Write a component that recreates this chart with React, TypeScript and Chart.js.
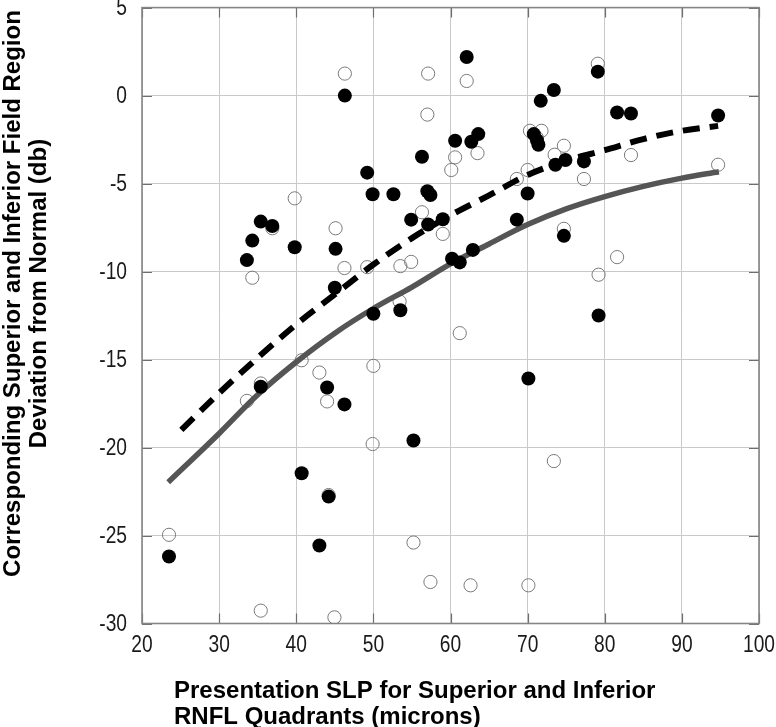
import React, { useEffect, useRef } from "react";
import { Chart, registerables } from "chart.js";

Chart.register(...registerables);

// ---- Data ----
const xTickValues = [20, 30, 40, 50, 60, 70, 80, 90, 100];
const yTickValues = [5, 0, -5, -10, -15, -20, -25, -30];

// Filled (black) circles
const filledX = [46.3, 60.6, 56.3, 49.2, 49.9, 52.6, 57.0, 57.4, 35.4, 36.9, 54.9, 57.1, 59.0, 34.3, 39.8, 45.1, 33.6, 60.2, 61.2, 45.0, 50.0, 53.5, 62.1, 79.1, 73.4, 71.7, 81.6, 83.4, 94.7, 63.6, 62.7, 70.8, 71.2, 71.4, 74.9, 73.6, 77.3, 70.0, 68.6, 74.7, 62.9, 79.2, 35.4, 44.0, 46.25, 55.2, 40.7, 44.2, 43.0, 23.5, 70.1];
const filledY = [0.0, -2.57, -3.48, -4.38, -5.61, -5.61, -5.44, -5.65, -7.16, -7.41, -7.05, -7.33, -7.03, -8.24, -8.62, -8.71, -9.35, -9.27, -9.48, -10.92, -12.4, -12.2, 2.19, 1.36, 0.32, -0.3, -0.96, -1.02, -1.13, -2.19, -2.62, -2.19, -2.53, -2.79, -3.66, -3.93, -3.74, -5.56, -7.05, -7.97, -8.77, -12.5, -16.55, -16.59, -17.55, -19.6, -21.46, -22.79, -25.57, -26.19, -16.08];

// Open circles
const openX = [46.3, 57.1, 57.0, 60.6, 60.1, 39.8, 45.1, 36.9, 56.3, 59.0, 46.25, 49.2, 53.5, 54.9, 34.3, 53.4, 61.2, 62.1, 79.1, 70.3, 71.8, 71.2, 63.5, 74.7, 73.5, 83.4, 94.7, 70.0, 68.6, 77.3, 74.7, 81.6, 79.2, 40.7, 43.0, 50.0, 35.4, 33.6, 44.0, 49.9, 23.5, 55.2, 57.4, 35.4, 44.95, 73.4, 62.6, 70.1, 44.2];
const openY = [1.25, 1.25, -1.08, -3.51, -4.23, -5.84, -7.54, -7.54, -6.63, -7.86, -9.8, -9.75, -9.69, -9.45, -10.35, -11.7, -13.5, 0.83, 1.81, -2.0, -2.0, -2.4, -3.27, -2.85, -3.36, -3.38, -3.93, -4.23, -4.74, -4.74, -7.57, -9.18, -10.18, -15.04, -15.74, -15.36, -16.36, -17.35, -17.38, -19.8, -24.96, -25.4, -27.64, -29.27, -29.65, -20.77, -27.83, -27.83, -22.7];

// Dashed fitted curve (filled-circle group)
const dashedX = [25.1, 30, 35, 40, 45, 50, 55, 60, 65, 70, 75, 80, 85, 90, 94.7];
const dashedY = [-19.0, -16.9, -14.9, -13.0, -11.3, -9.6, -8.1, -6.8, -5.67, -4.51, -3.7, -3.1, -2.47, -2.0, -1.72];

// Solid gray fitted curve (open-circle group)
const solidX = [23.4, 30, 35, 40, 45, 50, 55, 60, 65, 70, 75, 80, 85, 90, 94.8];
const solidY = [-21.97, -19.2, -17.0, -15.14, -13.5, -12.1, -10.88, -9.56, -8.43, -7.33, -6.44, -5.74, -5.16, -4.69, -4.33];

const xTitleLines = ["Presentation SLP for Superior and Inferior", "RNFL Quadrants (microns)"];
const yTitleLines = ["Corresponding Superior and Inferior Field Region", "Deviation from Normal (db)"];

const FONT = "'Liberation Sans', Arial, Helvetica, sans-serif";

const zip = (xs: number[], ys: number[]) => xs.map((x, i) => ({ x, y: ys[i] }));

// condensed text helper (the reference tick labels are tall and narrow)
const TICK_FONT = `24px ${FONT}`;
const SQUEEZE = 0.8;
function drawCondensed(ctx: CanvasRenderingContext2D, text: string, x: number, y: number, align: "left" | "right" | "center") {
  ctx.save();
  ctx.translate(x, y);
  ctx.scale(SQUEEZE, 1);
  ctx.textAlign = align;
  ctx.fillText(text, 0, 0);
  ctx.restore();
}

const framePlugin = {
  id: "frameAndTitles",
  beforeDatasetsDraw(chart: any) {
    const { ctx, chartArea: a, scales } = chart;
    ctx.save();
    ctx.strokeStyle = "#6e6e6e";
    ctx.lineWidth = 1.2;
    const len = 10;
    ctx.beginPath();
    for (const v of xTickValues) {
      const px = Math.round(scales.x.getPixelForValue(v)) + 0.5;
      ctx.moveTo(px, a.bottom);
      ctx.lineTo(px, a.bottom - len);
      ctx.moveTo(px, a.top);
      ctx.lineTo(px, a.top + len);
    }
    for (const v of yTickValues) {
      const py = Math.round(scales.y.getPixelForValue(v)) + 0.5;
      ctx.moveTo(a.left, py);
      ctx.lineTo(a.left + len, py);
      ctx.moveTo(a.right, py);
      ctx.lineTo(a.right - len, py);
    }
    ctx.stroke();
    ctx.strokeStyle = "#858585";
    ctx.lineWidth = 1.6;
    ctx.strokeRect(a.left, a.top, a.right - a.left, a.bottom - a.top);
    ctx.restore();
  },
  afterDraw(chart: any) {
    const { ctx, chartArea: a, scales } = chart;
    ctx.save();
    // tick labels
    ctx.fillStyle = "#1a1a1a";
    ctx.font = TICK_FONT;
    ctx.textBaseline = "middle";
    for (const v of yTickValues) {
      drawCondensed(ctx, String(v), a.left - 15, scales.y.getPixelForValue(v) + 1, "right");
    }
    for (const v of xTickValues) {
      drawCondensed(ctx, String(v), scales.x.getPixelForValue(v), a.bottom + 22, "center");
    }
    // axis titles
    ctx.fillStyle = "#000";
    ctx.font = `bold 24px ${FONT}`;
    ctx.textBaseline = "middle";
    ctx.textAlign = "left";
    const xStart = a.left + 32;
    ctx.fillText(xTitleLines[0], xStart, a.bottom + 68);
    ctx.fillText(xTitleLines[1], xStart, a.bottom + 94);
    const cy = a.top + (a.bottom - a.top) / 2 - 22;
    ctx.save();
    ctx.translate(13, cy);
    ctx.rotate(-Math.PI / 2);
    ctx.textAlign = "center";
    ctx.fillText(yTitleLines[0], 0, 0);
    ctx.restore();
    ctx.save();
    ctx.translate(39, cy);
    ctx.rotate(-Math.PI / 2);
    ctx.textAlign = "center";
    ctx.fillText(yTitleLines[1], 0, 0);
    ctx.restore();
    ctx.restore();
  },
};

export default function App() {
  const canvasRef = useRef<HTMLCanvasElement | null>(null);

  useEffect(() => {
    const canvas = canvasRef.current;
    if (!canvas) return;
    const chart = new Chart(canvas, {
      type: "scatter",
      data: {
        datasets: [
          {
            label: "Filled",
            data: zip(filledX, filledY),
            pointRadius: 7,
            pointBackgroundColor: "#000",
            pointBorderColor: "#000",
            pointBorderWidth: 0,
            showLine: false,
            order: 0,
          },
          {
            label: "Dashed fit",
            data: zip(dashedX, dashedY),
            showLine: true,
            borderColor: "#000",
            borderWidth: 6,
            borderDash: [17, 10],
            borderCapStyle: "butt",
            pointRadius: 0,
            cubicInterpolationMode: "monotone",
            order: 1,
          },
          {
            label: "Solid fit",
            data: zip(solidX, solidY),
            showLine: true,
            borderColor: "#555555",
            borderWidth: 5.5,
            borderCapStyle: "butt",
            pointRadius: 0,
            cubicInterpolationMode: "monotone",
            order: 2,
          },
          {
            label: "Open",
            data: zip(openX, openY),
            pointRadius: 6.6,
            pointBackgroundColor: "rgba(255,255,255,0)",
            pointBorderColor: "#7a7a7a",
            pointBorderWidth: 1,
            showLine: false,
            order: 3,
          },
        ],
      },
      options: {
        responsive: false,
        animation: false,
        devicePixelRatio: 1,
        layout: { padding: { top: 6.5, right: 17, left: 0, bottom: 0 } },
        plugins: {
          legend: { display: false },
          tooltip: { enabled: false },
          title: { display: false },
        },
        scales: {
          x: {
            type: "linear",
            min: 20,
            max: 100,
            afterBuildTicks: (scale: any) => {
              scale.ticks = xTickValues.map((v) => ({ value: v }));
            },
            afterFit: (scale: any) => {
              scale.height = 103.5;
              scale.paddingLeft = 0;
              scale.paddingRight = 0;
            },
            grid: { color: "#c9c9c9", lineWidth: 1, drawTicks: false },
            border: { display: false },
            ticks: { display: false, autoSkip: false, maxRotation: 0 },
          },
          y: {
            type: "linear",
            min: -30,
            max: 5,
            afterBuildTicks: (scale: any) => {
              scale.ticks = yTickValues.map((v) => ({ value: v }));
            },
            afterFit: (scale: any) => {
              scale.width = 142;
              scale.paddingTop = 0;
              scale.paddingBottom = 0;
            },
            grid: { color: "#c9c9c9", lineWidth: 1, drawTicks: false },
            border: { display: false },
            ticks: { display: false, autoSkip: false },
          },
        },
      },
      plugins: [framePlugin],
    } as any);
    return () => chart.destroy();
  }, []);

  return (
    <div style={{ position: "fixed", left: 0, top: 0, width: 776, height: 727, background: "#fff" }}>
      <canvas ref={canvasRef} width={776} height={727} style={{ display: "block" }} />
    </div>
  );
}
